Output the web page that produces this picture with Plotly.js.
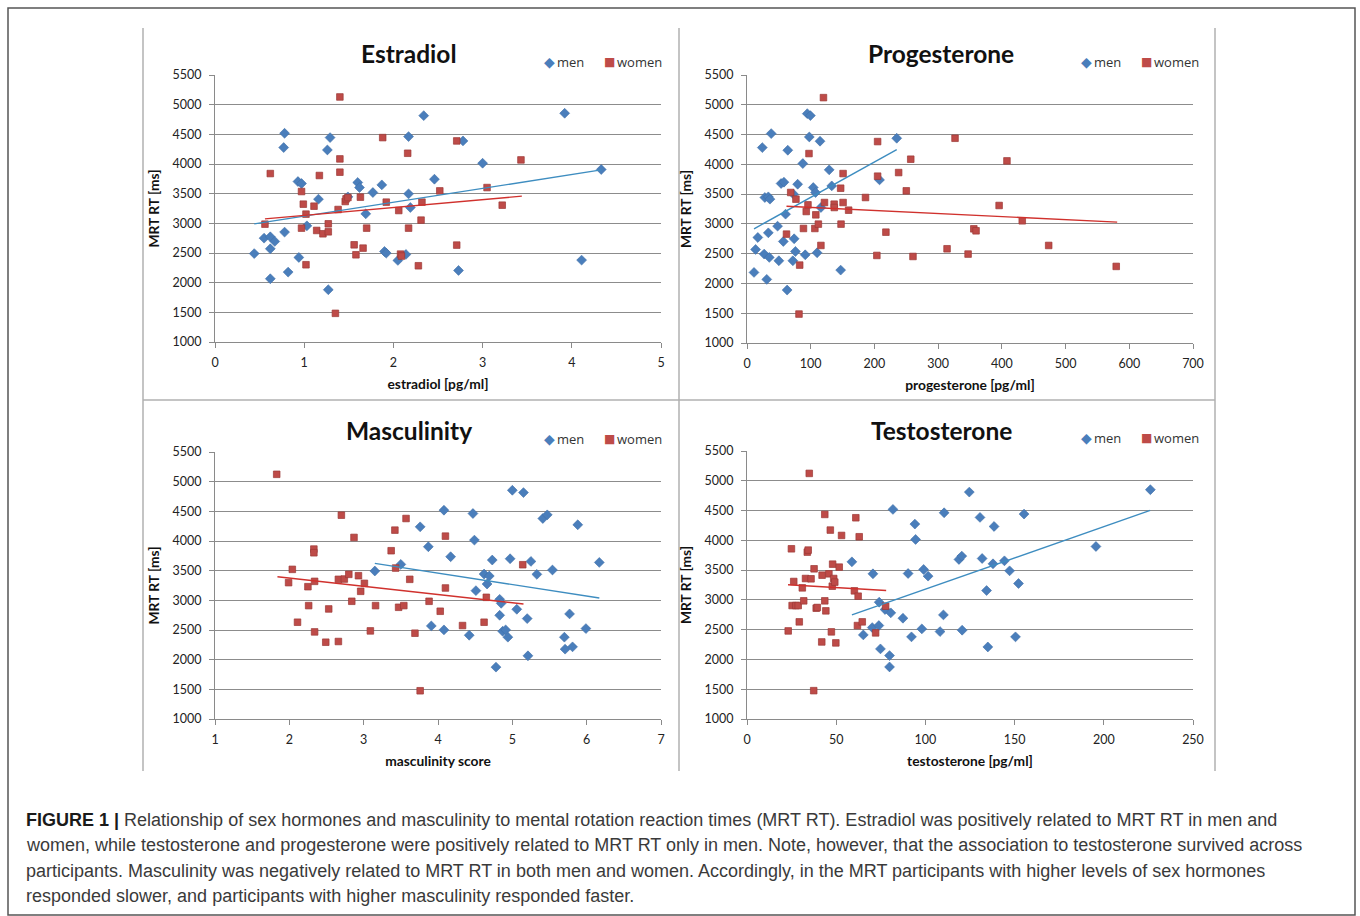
<!DOCTYPE html>
<html>
<head>
<meta charset="utf-8">
<script src="https://cdn.plot.ly/plotly-3.0.1.min.js"></script>
<style>
html,body{margin:0;padding:0;background:#fff;}
#chart{width:1360px;height:916px;}
</style>
</head>
<body>
<div id="chart"></div>
<script>
// ---------------- DATA ----------------
const panelTitles = ["Estradiol", "Progesterone", "Masculinity", "Testosterone"];
const xAxisTitles = ["estradiol [pg/ml]", "progesterone [pg/ml]", "masculinity score", "testosterone [pg/ml]"];
const yAxisTitle = "MRT RT [ms]";
const seriesNames = ["men", "women"];

// Estradiol
const estradiolMenX = [0.44,0.55,0.62,0.67,0.62,0.62,0.78,0.82,0.77,0.78,0.93,0.97,0.94,1.03,1.16,1.26,1.29,1.27,1.49,1.60,1.62,1.69,1.77,1.87,1.90,1.92,2.05,2.14,2.17,2.17,2.19,2.34,2.46,2.73,2.78,3.00,3.92,4.11,4.33];
const estradiolMenY = [2490,2750,2773,2695,2571,2066,2852,2178,4277,4518,3704,3671,2425,2958,3407,4237,4445,1881,3446,3688,3603,3160,3519,3648,2526,2498,2375,2476,4462,3497,3267,4815,3744,2206,4389,4013,4855,2380,3907];
const estradiolWomenX = [0.56,0.62,0.97,0.99,1.02,0.97,1.02,1.11,1.17,1.14,1.21,1.27,1.27,1.38,1.40,1.40,1.40,1.35,1.46,1.47,1.49,1.56,1.58,1.63,1.66,1.70,1.88,1.92,2.06,2.08,2.09,2.16,2.17,2.28,2.31,2.32,2.52,2.71,2.71,3.05,3.22,3.43];
const estradiolWomenY = [2986,3839,3536,3323,3155,2919,2302,3289,3806,2880,2824,2992,2857,3233,5130,4086,3862,1483,3368,3413,3435,2638,2470,3441,2582,2919,4445,3357,3216,2481,2448,4181,2919,2285,3054,3357,3547,4389,2633,3603,3306,4069];
const estradiolMenTrendX = [0.44, 4.33];
const estradiolMenTrendY = [2990, 3900];
const estradiolWomenTrendX = [0.56, 3.44];
const estradiolWomenTrendY = [3075, 3458];

// Progesterone
const progesteroneMenX = [11,13.5,17,24,28,27,31,33.5,35,33.5,36,38,48,50,53.5,58,57,60.5,64,63,73,74,72,76,79.5,87.6,91.4,94.6,99.5,97.8,104,107.6,110,114.6,116,129,133,147,208,235];
const progesteroneMenY = [2185,2571,2772,4281,3443,2493,2068,2850,2437,3454,3415,4516,2962,2381,3678,3700,2705,3163,4237,1889,3499,2750,2381,2537,3666,4013,2481,4851,4818,4460,3610,3527,2515,4388,3275,3907,3638,2224,3739,4438];
const progesteroneWomenX = [62,68.6,76.8,82.7,81.6,88.6,93,95.7,97.3,108,106.5,112,116,120,121.6,136.8,137,147,147.6,150.8,150.8,159.5,186,203.8,205,205,218,238,250,257,260.5,314,326.5,347,356,359.5,395.7,408,432,473.5,579.5];
const progesteroneWomenY = [2828,3527,3415,2308,1486,2923,3208,3320,4181,3152,2923,2996,2638,5120,3359,3331,3275,3599,2996,3845,3359,3230,3443,2470,4382,3801,2861,3862,3555,4086,2453,2582,4438,2493,2917,2884,3309,4058,3052,2638,2286];
const progesteroneMenTrendX = [11, 235];
const progesteroneMenTrendY = [2917, 4248];
const progesteroneWomenTrendX = [62, 581];
const progesteroneWomenTrendY = [3297, 3029];

// Masculinity
const masculinityMenX = [3.15,3.50,3.76,3.87,3.91,4.08,4.08,4.17,4.42,4.47,4.49,4.51,4.62,4.66,4.69,4.73,4.78,4.83,4.85,4.83,4.87,4.91,4.94,4.97,5.00,5.06,5.15,5.20,5.21,5.25,5.33,5.41,5.47,5.54,5.70,5.71,5.77,5.81,5.88,5.99,6.17];
const masculinityMenY = [3494,3606,4239,3903,2569,4519,2502,3735,2412,4463,4015,3163,3443,3275,3410,3679,1874,3017,2950,2748,2479,2502,2379,3701,4855,2849,4816,2692,2065,3656,3438,4379,4441,3511,2379,2177,2771,2216,4273,2524,3639];
const masculinityWomenX = [1.83,1.99,2.04,2.11,2.25,2.26,2.33,2.33,2.34,2.34,2.49,2.53,2.66,2.66,2.70,2.74,2.80,2.84,2.87,2.93,2.96,3.01,3.09,3.16,3.37,3.42,3.43,3.47,3.54,3.57,3.62,3.69,3.76,3.88,4.03,4.10,4.10,4.33,4.62,4.65,5.14];
const masculinityWomenY = [5124,3298,3522,2631,3230,2911,3864,3802,3320,2468,2294,2855,2306,3354,4435,3359,3438,2984,4060,3415,3152,3286,2485,2911,3836,4183,3544,2883,2911,4379,3354,2446,1476,2984,2816,4082,3208,2575,2631,3051,3600];
const masculinityMenTrendX = [3.15, 6.17];
const masculinityMenTrendY = [3623, 3040];
const masculinityWomenTrendX = [1.84, 5.15];
const masculinityWomenTrendY = [3398, 2939];

// Testosterone
const testosteroneMenX = [58.8,70.6,70.2,73.9,74.1,65.2,74.8,77.4,80.6,79.9,79.9,81.8,87.4,90.3,92.2,94.1,94.5,98,99,101.5,108.2,110.5,110.1,118.8,120.4,120.6,124.6,130.6,131.8,134.3,135,137.9,138.5,144.3,147.2,150.5,152.2,155.3,195.6,226.1];
const testosteroneMenY = [3639,3438,2535,2569,2961,2412,2177,2838,2782,2065,1874,4519,2692,3443,2379,4273,4015,2513,3511,3399,2468,4463,2748,3679,3735,2491,4810,4385,3695,3157,2210,3606,4233,3656,3488,2379,3275,4441,3897,4850];
const testosteroneWomenX = [23.1,24.9,26.2,25.3,27.4,28.7,29.3,31,31.8,32.8,33.8,34.3,34.9,35.9,37.6,37.4,38.8,39.4,42.1,41.9,43.6,44.2,43.6,45.9,46.7,47.3,47.8,48,48.6,49.2,49.8,51.7,53,60.2,61,61.9,62.3,62.9,64.6,72.1,77.7];
const testosteroneWomenY = [2479,3858,3309,2905,2905,2905,2631,3202,2984,3359,3802,3836,5124,3354,3522,1476,2861,2872,3415,2294,2984,2816,4435,3438,4172,2463,3230,3600,3359,3298,2278,3550,4082,3152,4379,2569,3062,4060,2631,2446,2894];
const testosteroneMenTrendX = [58.8, 226];
const testosteroneMenTrendY = [2748, 4502];
const testosteroneWomenTrendX = [23, 78];
const testosteroneWomenTrendY = [3253, 3157];

const xRanges = [[0,5],[0,700],[1,7],[0,250]];
const xDticks = [1, 100, 1, 50];
const yRange = [1000, 5500];
const yDtick = 500;

const captionBold = "FIGURE 1 |";
const captionLines = [
  " Relationship of sex hormones and masculinity to mental rotation reaction times (MRT RT). Estradiol was positively related to MRT RT in men and",
  "women, while testosterone and progesterone were positively related to MRT RT only in men. Note, however, that the association to testosterone survived across",
  "participants. Masculinity was negatively related to MRT RT in both men and women. Accordingly, in the MRT participants with higher levels of sex hormones",
  "responded slower, and participants with higher masculinity responded faster."
];

// ---------------- LAYOUT / STYLE ----------------
const W = 1360, H = 916;
const px = p => p / W;
const py = p => 1 - p / H;

const menColor = "#4a7ebb";
const womenColor = "#be4b48";
const menTrend = "#3e8dc0";
const womenTrend = "#d0312d";
const chartFont = "Lato, 'Open Sans', sans-serif";
const legendFont = "'Open Sans', Lato, sans-serif";

const panels = [
  {mx: estradiolMenX, my: estradiolMenY, wx: estradiolWomenX, wy: estradiolWomenY,
   mtx: estradiolMenTrendX, mty: estradiolMenTrendY, wtx: estradiolWomenTrendX, wty: estradiolWomenTrendY,
   box: {x0: 215, x1: 661, y0: 75, y1: 342}, titleY: 53, legendY: 62, legendX: 549},
  {mx: progesteroneMenX, my: progesteroneMenY, wx: progesteroneWomenX, wy: progesteroneWomenY,
   mtx: progesteroneMenTrendX, mty: progesteroneMenTrendY, wtx: progesteroneWomenTrendX, wty: progesteroneWomenTrendY,
   box: {x0: 747, x1: 1193, y0: 75, y1: 343}, titleY: 54, legendY: 62, legendX: 1086},
  {mx: masculinityMenX, my: masculinityMenY, wx: masculinityWomenX, wy: masculinityWomenY,
   mtx: masculinityMenTrendX, mty: masculinityMenTrendY, wtx: masculinityWomenTrendX, wty: masculinityWomenTrendY,
   box: {x0: 215, x1: 661, y0: 452, y1: 719}, titleY: 430, legendY: 439, legendX: 549},
  {mx: testosteroneMenX, my: testosteroneMenY, wx: testosteroneWomenX, wy: testosteroneWomenY,
   mtx: testosteroneMenTrendX, mty: testosteroneMenTrendY, wtx: testosteroneWomenTrendX, wty: testosteroneWomenTrendY,
   box: {x0: 747, x1: 1193, y0: 451, y1: 719}, titleY: 430, legendY: 438, legendX: 1086}
];

const traces = [];
const layout = {
  width: W, height: H,
  margin: {l: 0, r: 0, t: 0, b: 0},
  paper_bgcolor: "#ffffff",
  plot_bgcolor: "#ffffff",
  showlegend: false,
  font: {family: chartFont, color: "#222"},
  annotations: [],
  shapes: []
};

function addText(x, y, text, font, anchor) {
  layout.annotations.push({
    xref: "paper", yref: "paper", x: px(x), y: py(y),
    xanchor: anchor || "left", yanchor: "middle", showarrow: false,
    text: text, font: font
  });
}

panels.forEach((p, i) => {
  const n = i === 0 ? "" : String(i + 1);
  const xa = "x" + n, ya = "y" + n;
  traces.push({
    x: p.mx, y: p.my, xaxis: xa, yaxis: ya, type: "scatter", mode: "markers", name: seriesNames[0],
    marker: {symbol: "diamond", size: 7.6, color: menColor, line: {color: "#3f6fa8", width: 0.6}}
  });
  traces.push({
    x: p.wx, y: p.wy, xaxis: xa, yaxis: ya, type: "scatter", mode: "markers", name: seriesNames[1],
    marker: {symbol: "square", size: 6.6, color: womenColor, line: {color: "#9c3a37", width: 0.7}}
  });
  traces.push({
    x: p.mtx, y: p.mty, xaxis: xa, yaxis: ya, type: "scatter", mode: "lines", name: "men trend",
    line: {color: menTrend, width: 1.4}
  });
  traces.push({
    x: p.wtx, y: p.wty, xaxis: xa, yaxis: ya, type: "scatter", mode: "lines", name: "women trend",
    line: {color: womenTrend, width: 1.4}
  });

  layout["xaxis" + n] = {
    domain: [px(p.box.x0), px(p.box.x1)],
    anchor: ya,
    range: xRanges[i], dtick: xDticks[i], tick0: xRanges[i][0],
    showgrid: false, zeroline: false,
    showline: true, linecolor: "#8a8a8a", linewidth: 1,
    ticks: "outside", ticklen: 5, tickcolor: "#8a8a8a",
    ticklabelstandoff: 4,
    tickfont: {family: chartFont, size: 12.5, color: "#222"},
    title: {text: xAxisTitles[i], standoff: 10, font: {family: chartFont, size: 13.8, color: "#111", weight: "bold"}},
    fixedrange: true
  };
  layout["yaxis" + n] = {
    domain: [py(p.box.y1), py(p.box.y0)],
    anchor: xa,
    range: yRange, dtick: yDtick, tick0: 1000,
    showgrid: true, gridcolor: "#8c8c8c", gridwidth: 1,
    zeroline: false,
    showline: true, linecolor: "#8a8a8a", linewidth: 1,
    ticks: "outside", ticklen: 5, tickcolor: "#8a8a8a",
    ticklabelstandoff: 5,
    tickfont: {family: chartFont, size: 12.5, color: "#222"},
    title: {text: yAxisTitle, standoff: 9, font: {family: chartFont, size: 13.8, color: "#111", weight: "bold"}},
    fixedrange: true
  };

  // panel title
  addText((p.box.x0 + p.box.x1) / 2 - 29, p.titleY, "<b>" + panelTitles[i] + "</b>",
          {family: chartFont, size: 24.5, color: "#111"}, "center");
  // legend: glyphs + labels
  addText(p.legendX, p.legendY, "◆", {family: "DejaVu Sans", size: 14, color: menColor}, "center");
  addText(p.legendX + 6, p.legendY, seriesNames[0], {family: legendFont, size: 13, color: "#333"}, "left");
  addText(p.legendX + 60, p.legendY, "■", {family: "DejaVu Sans", size: 12, color: womenColor}, "center");
  addText(p.legendX + 66, p.legendY, seriesNames[1], {family: legendFont, size: 13, color: "#333"}, "left");
});

// Panel separators and outer frame
const sepColor = "#b0b0b0";
[143, 679, 1215].forEach(xx => {
  layout.shapes.push({type: "line", xref: "paper", yref: "paper",
    x0: px(xx), x1: px(xx), y0: py(28), y1: py(771), line: {color: sepColor, width: 1.5}});
});
layout.shapes.push({type: "line", xref: "paper", yref: "paper",
  x0: px(143), x1: px(1215), y0: py(400), y1: py(400), line: {color: sepColor, width: 1.5}});
layout.shapes.push({type: "rect", xref: "paper", yref: "paper",
  x0: px(8), x1: px(1355), y0: py(8), y1: py(915), line: {color: "#555", width: 1.5}});

// Caption
const captionFont = "'Liberation Sans Narrow', 'Liberation Sans', Arial, sans-serif";
const captionY = [820, 845, 871, 896];
captionLines.forEach((line, k) => {
  addText(24, captionY[k],
    (k === 0 ? "<b style='color:#1a1a1a'>" + captionBold + "</b>" : "") + line,
    {family: captionFont, size: 18, color: "#3a3a3a"}, "left");
});

Plotly.newPlot("chart", traces, layout, {displayModeBar: false, staticPlot: true});
</script>
</body>
</html>
